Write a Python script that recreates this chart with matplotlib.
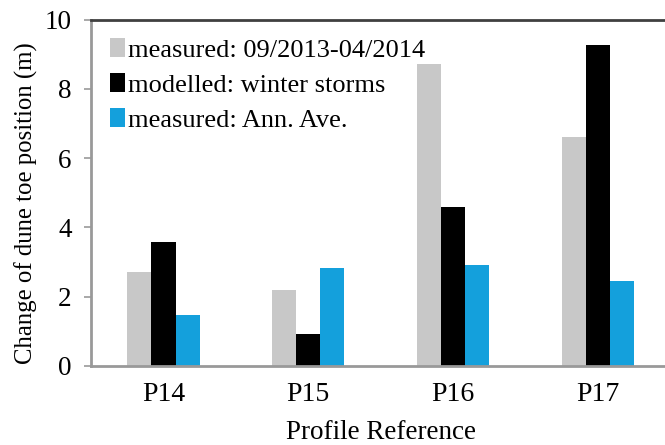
import matplotlib
matplotlib.use("Agg")
import matplotlib.pyplot as plt
import numpy as np

categories = ["P14", "P15", "P16", "P17"]
measured_period = [2.70, 2.20, 8.71, 6.60]
modelled_storms = [3.57, 0.92, 4.60, 9.26]
measured_annual = [1.47, 2.83, 2.90, 2.44]
series_labels = ["measured: 09/2013-04/2014", "modelled: winter storms", "measured: Ann. Ave."]
colors = ["#C8C8C8", "#000000", "#14A0DC"]

plt.rcParams['font.family'] = ['Liberation Serif', 'DejaVu Serif']

fig = plt.figure(figsize=(6.65, 4.45), dpi=100)
ax = fig.add_axes([0.137, 0.178, 0.871, 0.778])

x = np.arange(len(categories))
w = 0.166
for i, (vals, lab, c) in enumerate(zip([measured_period, modelled_storms, measured_annual], series_labels, colors)):
    ax.bar(x + (i - 1) * w, vals, width=w, color=c, label=lab, zorder=2)

ax.set_xlim(-0.5, 3.5)
ax.set_ylim(0, 10)
ax.set_yticks([0, 2, 4, 6, 8, 10])
ax.set_xticks(x)
ax.set_xticklabels(categories)
ax.tick_params(axis='y', direction='out', length=5, width=1.2, color='#999999', labelsize=19.5, pad=9)
ax.tick_params(axis='x', length=0, labelsize=20, pad=12)

for s in ['left', 'bottom']:
    ax.spines[s].set_color('#999999')
    ax.spines[s].set_linewidth(2)
ax.spines['top'].set_color('#404040')
ax.spines['top'].set_linewidth(2)
ax.spines['right'].set_visible(False)

ax.set_ylabel("Change of dune toe position (m)", fontsize=17.8, labelpad=5)
ax.yaxis.label.set_y(0.47)
ax.set_xlabel("Profile Reference", fontsize=19.5, labelpad=9)

leg = ax.legend(loc='upper left', bbox_to_anchor=(0.0, 1.0), frameon=False, fontsize=19,
                handlelength=0.6, handleheight=0.75, handletextpad=0.1, labelspacing=0.42,
                borderaxespad=0.3, borderpad=0.4)

fig.savefig("out.png", dpi=100)
